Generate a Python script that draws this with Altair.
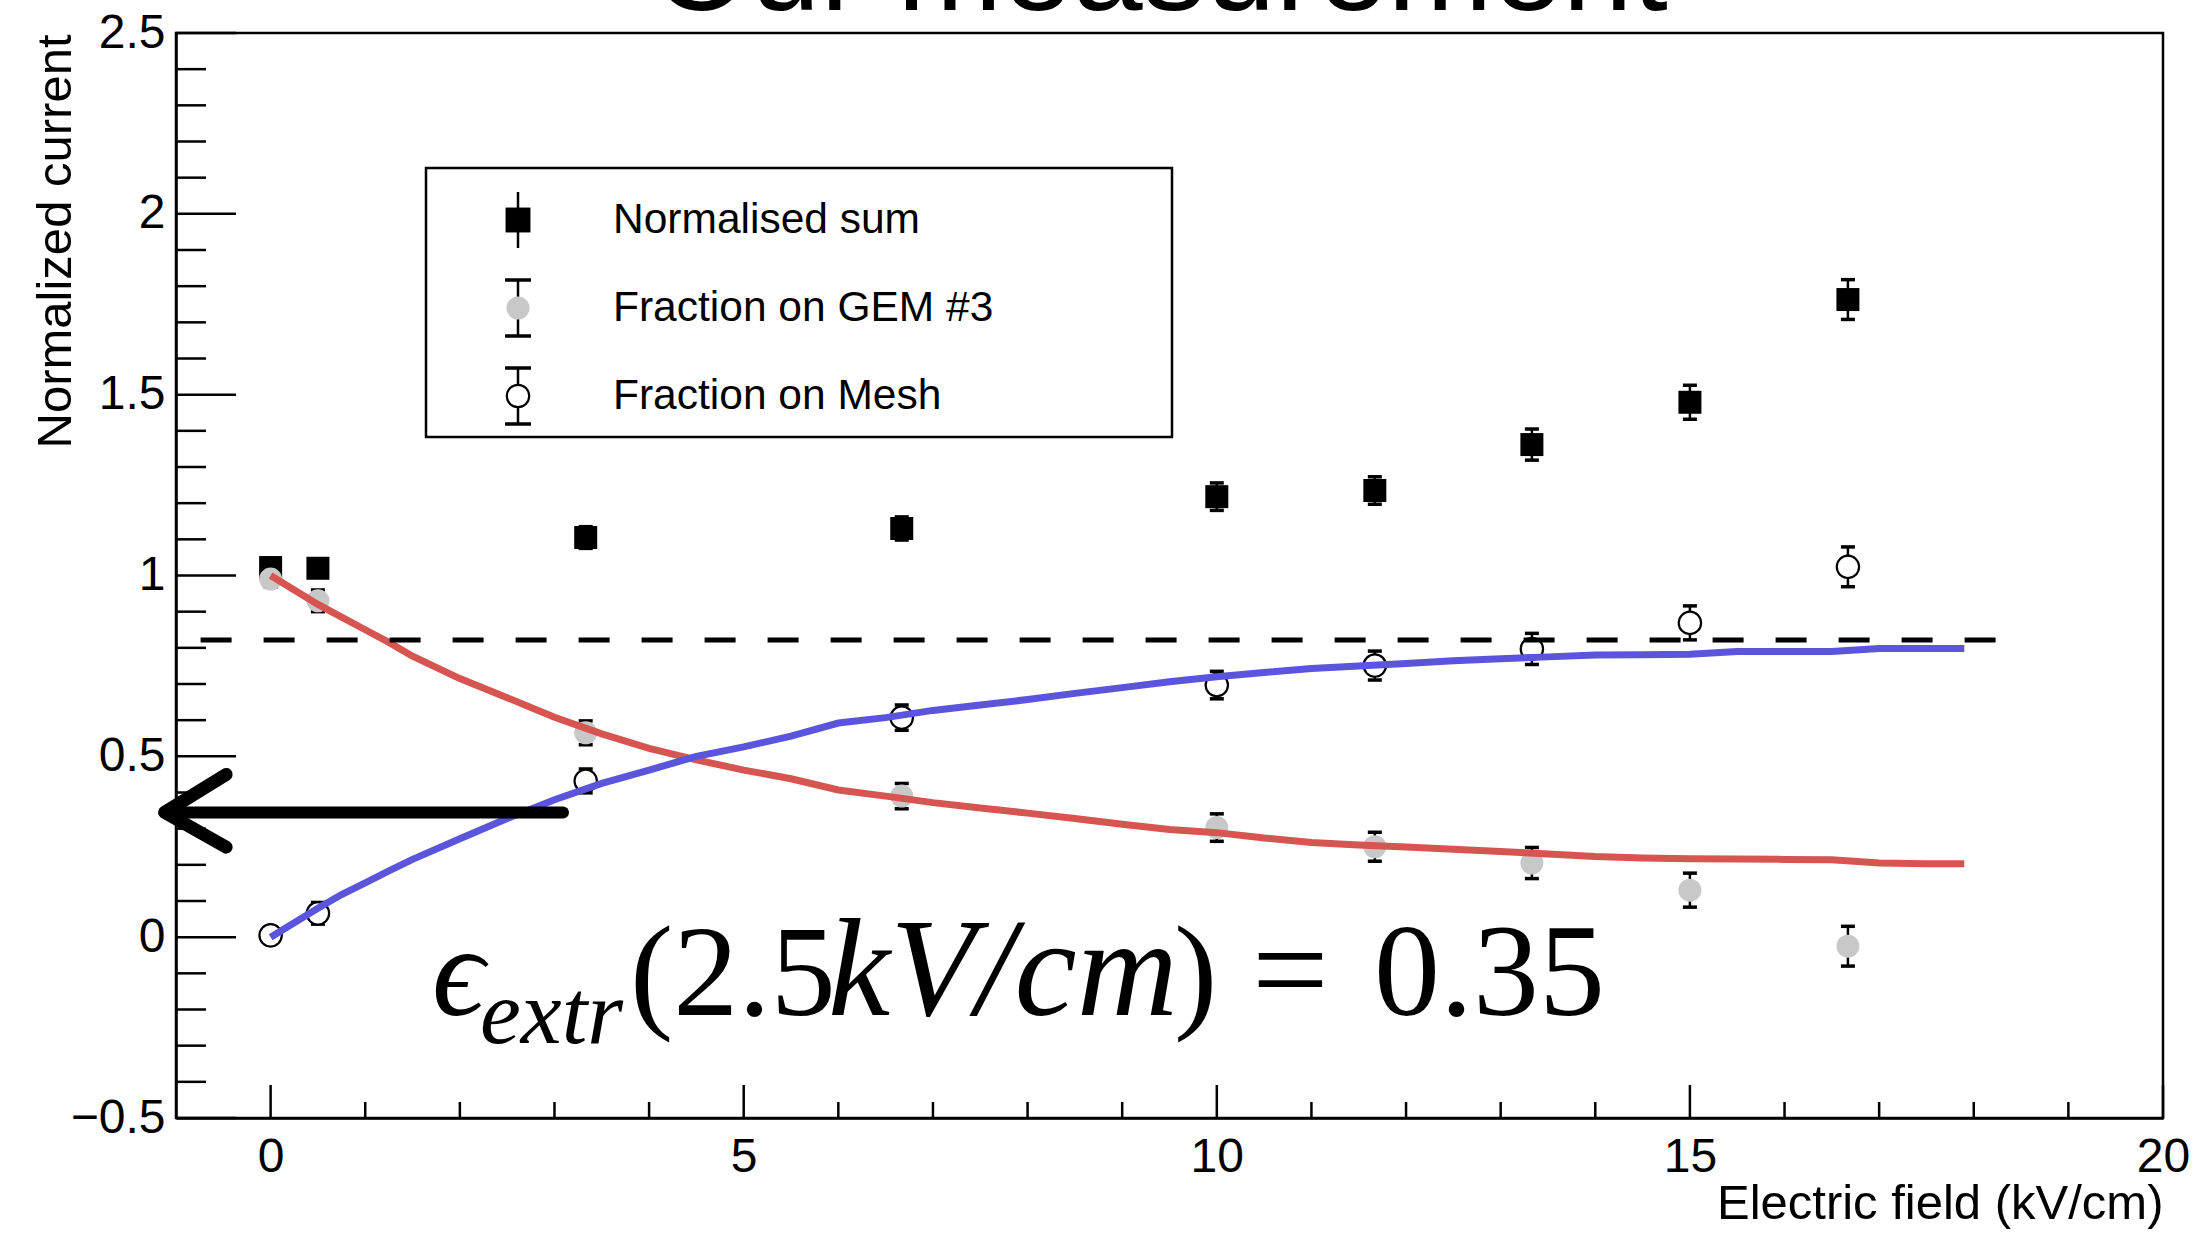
import altair as alt
import pandas as pd

# ---------------- data ----------------
field_kv = [0, 0.5, 3.33, 6.67, 10, 11.67, 13.33, 15, 16.67]
sum_vals = [1.022, 1.020, 1.105, 1.130, 1.218, 1.235, 1.362, 1.479, 1.763]
sum_err = [0.025, 0.025, 0.030, 0.032, 0.038, 0.038, 0.043, 0.047, 0.055]
gem_vals = [0.990, 0.930, 0.565, 0.390, 0.303, 0.250, 0.205, 0.130, -0.025]
gem_err = [0.022, 0.030, 0.033, 0.035, 0.038, 0.040, 0.043, 0.047, 0.055]
mesh_vals = [0.005, 0.066, 0.432, 0.607, 0.697, 0.751, 0.797, 0.869, 1.024]
mesh_err = [0.022, 0.030, 0.033, 0.035, 0.038, 0.040, 0.043, 0.047, 0.055]

sim_x = [0, 0.25, 0.5, 0.75, 1.0, 1.25, 1.5, 2.0, 2.5, 3.0, 3.5, 4.0, 4.5, 5.0,
         5.5, 6.0, 6.5, 7.0, 7.5, 8.0, 8.5, 9.0, 9.5, 10.0, 10.5, 11.0, 11.5,
         12.0, 12.5, 13.0, 13.5, 14.0, 14.5, 15.0, 15.5, 16.0, 16.5, 17.0, 17.5, 17.9]
sim_gem = [1.0, 0.96, 0.92, 0.885, 0.85, 0.815, 0.777, 0.715, 0.662, 0.608, 0.562,
           0.522, 0.49, 0.462, 0.438, 0.407, 0.39, 0.372, 0.357, 0.343, 0.328,
           0.312, 0.298, 0.289, 0.274, 0.262, 0.255, 0.249, 0.243, 0.237, 0.23,
           0.223, 0.219, 0.217, 0.216, 0.215, 0.214, 0.205, 0.203, 0.203]
sim_mesh = [0.0, 0.04, 0.08, 0.118, 0.15, 0.183, 0.215, 0.272, 0.328, 0.38, 0.425,
            0.462, 0.50, 0.526, 0.556, 0.592, 0.607, 0.627, 0.642, 0.657, 0.674,
            0.69, 0.706, 0.72, 0.732, 0.743, 0.75, 0.757, 0.764, 0.77, 0.775,
            0.78, 0.781, 0.782, 0.79, 0.79, 0.79, 0.798, 0.798, 0.798]

ref_level = [0.822]
ref_start = [-0.74]
ref_end = [18.56]

arrow_level = [0.345]
arrow_start = [3.09]
arrow_tip = [-1.12]
arrow_head_x = [-0.47, -1.12, -0.47]
arrow_head_y = [0.45, 0.345, 0.249]

x_major = [0, 5, 10, 15, 20]
x_minor = [1, 2, 3, 4, 6, 7, 8, 9, 11, 12, 13, 14, 16, 17, 18, 19]
y_major = [-0.5, 0, 0.5, 1, 1.5, 2, 2.5]
y_minor = [-0.4, -0.3, -0.2, -0.1, 0.1, 0.2, 0.3, 0.4, 0.6, 0.7, 0.8, 0.9,
           1.1, 1.2, 1.3, 1.4, 1.6, 1.7, 1.8, 1.9, 2.1, 2.2, 2.3, 2.4]

legend_labels = ["Normalised sum", "Fraction on GEM #3", "Fraction on Mesh"]

# ---------------- layout / style ----------------
W, H = 1987, 1085
FONT = "Liberation Sans, Arial, Helvetica, sans-serif"
SERIF = "Liberation Serif, Times New Roman, DejaVu Serif, serif"
RED = "#d65550"
BLUE = "#5a55dc"
GREY = "#c8c8c8"

XS = alt.Scale(domain=[-1, 20], nice=False, zero=False)
YS = alt.Scale(domain=[-0.5, 2.5], nice=False, zero=False)

pts = pd.DataFrame({
    "x": field_kv,
    "sum": sum_vals, "sum_lo": [v - e for v, e in zip(sum_vals, sum_err)],
    "sum_hi": [v + e for v, e in zip(sum_vals, sum_err)],
    "gem": gem_vals, "gem_lo": [v - e for v, e in zip(gem_vals, gem_err)],
    "gem_hi": [v + e for v, e in zip(gem_vals, gem_err)],
    "mesh": mesh_vals, "mesh_lo": [v - e for v, e in zip(mesh_vals, mesh_err)],
    "mesh_hi": [v + e for v, e in zip(mesh_vals, mesh_err)],
})
sim = pd.DataFrame({"x": sim_x, "gem": sim_gem, "mesh": sim_mesh})

XAX = alt.Axis(values=x_major, title="Electric field (kV/cm)", labelFlush=False,
               labelOverlap=False, labelBound=False, ticks=False, tickSize=0, grid=False,
               labelPadding=15, labelFontSize=48, labelFont=FONT, labelColor="black",
               domainColor="black", domainWidth=2.5, titleFont=FONT, titleFontSize=49,
               titleFontWeight="normal", titleColor="black", titleX=W, titleY=100,
               titleAlign="right", titleBaseline="alphabetic")
YAX = alt.Axis(values=y_major, format="~g", title="Normalized current", labelFlush=False,
               labelOverlap=False, labelBound=False, ticks=False, tickSize=0, grid=False,
               labelPadding=11, labelFontSize=48, labelFont=FONT, labelColor="black",
               domainColor="black", domainWidth=2.5, titleFont=FONT, titleFontSize=49,
               titleFontWeight="normal", titleColor="black", titleAngle=270,
               titleX=-106, titleY=1, titleAlign="right", titleBaseline="alphabetic")


def X(field):
    return alt.X(field, scale=XS, axis=XAX)


def Y(field):
    return alt.Y(field, scale=YS, axis=YAX)


layers = []


# axis ticks drawn inward (ROOT style)
def yticks(vals, length):
    return alt.Chart(pd.DataFrame({"v": vals})).mark_rule(color="black", strokeWidth=2.5).encode(
        y=Y("v:Q"), x=alt.value(0), x2=alt.value(length))


def xticks(vals, length):
    return alt.Chart(pd.DataFrame({"v": vals})).mark_rule(color="black", strokeWidth=2.5).encode(
        x=X("v:Q"), y=alt.value(H), y2=alt.value(H - length))


layers += [yticks(y_major, 60), yticks(y_minor, 30), xticks(x_major, 33), xticks(x_minor, 16)]

base = alt.Chart(pts)


def errbars(key):
    rule = base.mark_rule(color="black", strokeWidth=2.5).encode(
        x=X("x:Q"), y=Y(f"{key}_lo:Q"), y2=f"{key}_hi:Q")
    caps = [base.mark_tick(orient="horizontal", size=14, thickness=3.5, color="black",
                           opacity=1).encode(x=X("x:Q"), y=Y(f"{key}_{s}:Q"))
            for s in ("lo", "hi")]
    return [rule] + caps


layers += errbars("sum") + errbars("gem") + errbars("mesh")

# markers
layers.append(base.mark_square(size=529, color="black", opacity=1).encode(
    x=X("x:Q"), y=Y("sum:Q")))
layers.append(base.mark_circle(size=529, fill=GREY, opacity=1).encode(
    x=X("x:Q"), y=Y("gem:Q")))
layers.append(base.mark_circle(size=500, fill="white", stroke="black", strokeWidth=2.2,
                               opacity=1).encode(x=X("x:Q"), y=Y("mesh:Q")))

# simulation curves
simb = alt.Chart(sim)
layers.append(simb.mark_line(color=RED, strokeWidth=7).encode(x=X("x:Q"), y=Y("gem:Q")))
layers.append(simb.mark_line(color=BLUE, strokeWidth=7).encode(x=X("x:Q"), y=Y("mesh:Q")))

# dashed reference line
ref = pd.DataFrame({"x1": ref_start, "x2": ref_end, "y": ref_level})
layers.append(alt.Chart(ref).mark_rule(color="black", strokeWidth=5, strokeDash=[31, 32]).encode(
    x=X("x1:Q"), x2="x2:Q", y=Y("y:Q")))

# hand-drawn arrow
shaft = pd.DataFrame({"x1": arrow_start, "x2": arrow_tip, "y": arrow_level})
layers.append(alt.Chart(shaft).mark_rule(color="black", strokeWidth=12, strokeCap="round").encode(
    x=X("x1:Q"), x2="x2:Q", y=Y("y:Q")))
head = pd.DataFrame({"x": arrow_head_x, "y": arrow_head_y, "o": [0, 1, 2]})
layers.append(alt.Chart(head).mark_line(color="black", strokeWidth=13, strokeCap="round",
                                        strokeJoin="round").encode(
    x=X("x:Q"), y=Y("y:Q"), order="o:O"))

one = alt.Chart(pd.DataFrame({"k": [0]}))


# formula annotation
def txt(s, x, y, size, italic=False, font=SERIF, align="left"):
    kw = dict(text=s, font=font, fontSize=size, align=align, baseline="alphabetic", color="black")
    if italic:
        kw["fontStyle"] = "italic"
    return one.mark_text(**kw).encode(x=alt.value(x), y=alt.value(y))


layers += [
    txt("\u03f5", 256, 982, 130, italic=True),
    txt("extr", 304, 1010, 92, italic=True),
    txt("(2.5", 454, 982, 130),
    txt("kV/cm", 652, 982, 140, italic=True),
    txt(")", 998, 982, 130),
    txt("=", 1076, 982, 136),
    txt("0.35", 1198, 982, 132),
]

# legend (ROOT TLegend style)
LX0, LX1, LY0, LY1 = 250, 996, 135, 404
MX, TX = 342, 437
ROWS = [187, 275, 363]
layers.append(one.mark_rect(fill="white", stroke="black", strokeWidth=2.5).encode(
    x=alt.value(LX0), x2=alt.value(LX1), y=alt.value(LY0), y2=alt.value(LY1)))
for i, label in enumerate(legend_labels):
    yc = ROWS[i]
    layers.append(one.mark_rule(color="black", strokeWidth=2.5).encode(
        x=alt.value(MX), y=alt.value(yc - 28), y2=alt.value(yc + 28)))
    if i > 0:
        for yy in (yc - 28, yc + 28):
            layers.append(one.mark_rule(color="black", strokeWidth=3.5).encode(
                x=alt.value(MX - 13), x2=alt.value(MX + 13), y=alt.value(yy)))
    if i == 0:
        layers.append(one.mark_square(size=620, color="black", opacity=1).encode(
            x=alt.value(MX), y=alt.value(yc)))
    elif i == 1:
        layers.append(one.mark_circle(size=529, fill=GREY, opacity=1).encode(
            x=alt.value(MX), y=alt.value(yc)))
    else:
        layers.append(one.mark_circle(size=500, fill="white", stroke="black", strokeWidth=2.2,
                                      opacity=1).encode(x=alt.value(MX), y=alt.value(yc)))
    layers.append(one.mark_text(text=label, font=FONT, fontSize=42.5, align="left",
                                baseline="middle", color="black").encode(
        x=alt.value(TX), y=alt.value(yc)))

# slide title, cut by the top edge
layers.append(txt("Our measurement", 984, -23, 126, font=FONT, align="center"))

chart = alt.layer(*layers).properties(
    width=W, height=H,
    autosize=alt.AutoSizeParams(type="none"),
    padding={"left": 176, "top": 33, "right": 35, "bottom": 119},
    background="white",
).configure_view(stroke="black", strokeWidth=2.5)

chart.save("out.html", embed_options={"renderer": "svg", "actions": False})
